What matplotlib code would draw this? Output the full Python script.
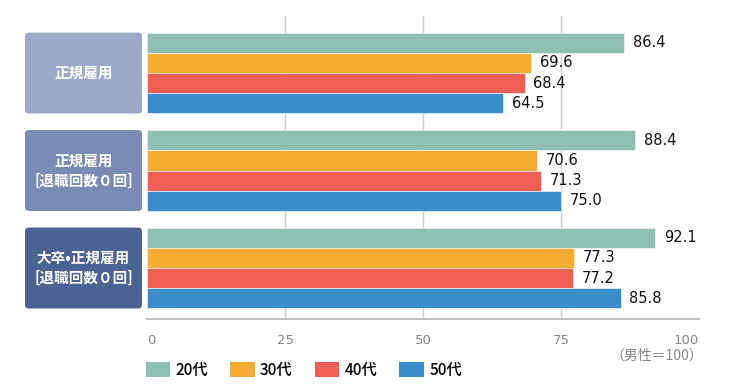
import matplotlib
matplotlib.use("Agg")
import matplotlib.pyplot as plt
from matplotlib.patches import FancyBboxPatch, Patch
import numpy as np

plt.rcParams['font.family'] = ['DejaVu Sans', 'Noto Sans CJK JP']
jp = ['Noto Sans CJK JP', 'DejaVu Sans']

# data
groups = ['正規雇用', '正規雇用\n[退職回数０回]', '大卒•正規雇用\n[退職回数０回]']
ages = ['20代', '30代', '40代', '50代']
v20 = [86.4, 88.4, 92.1]
v30 = [69.6, 70.6, 77.3]
v40 = [68.4, 71.3, 77.2]
v50 = [64.5, 75.0, 85.8]
ticks = [0, 25, 50, 75, 100]

colors = ['#8fbeb3', '#f5ac33', '#ef5f56', '#3b8cca']
box_colors = ['#9ca9c8', '#7a8bb3', '#4b6294']

fig = plt.figure(figsize=(7.5, 3.92), dpi=100)
ax = fig.add_axes([147/750, 1-319/392, 552/750, 303/392])

gap = 4.82
centers = np.arange(len(groups)) * gap
series = [v20, v30, v40, v50]
for i, vals in enumerate(series):
    ypos = centers + (i - 1.5)
    ax.barh(ypos, vals, height=1.0, color=colors[i], edgecolor='white', linewidth=0.4, zorder=3)
    for y, v in zip(ypos, vals):
        ax.text(v + 1.6, y, f'{v:.1f}', va='center', ha='left', fontsize=10.5, color='#111111')

ax.set_xlim(0, 100)
ax.set_ylim(centers[-1] + 2.52, -2.82)
ax.set_xticks(ticks)
ax.set_xticklabels([str(t) for t in ticks], color='#888888', fontsize=9.5)
lbls = ax.get_xticklabels()
lbls[0].set_ha('left')
lbls[-1].set_ha('right')
ax.tick_params(axis='x', length=0, pad=11)
ax.set_yticks([])
ax.grid(axis='x', color='#d0d0d0', linewidth=1, zorder=0)
gl = ax.xaxis.get_gridlines()
gl[0].set_visible(False)
gl[-1].set_visible(False)
for s in ['top', 'right', 'left']:
    ax.spines[s].set_visible(False)
ax.spines['bottom'].set_color('#c0c0c0')
ax.spines['bottom'].set_linewidth(1.5)

# category boxes left of the axis
for c, g, bc in zip(centers, groups, box_colors):
    box = FancyBboxPatch((-22.1, c - 2.0), 21.2, 4.0,
                         boxstyle='round,pad=0,rounding_size=0.7',
                         mutation_aspect=0.27, facecolor=bc, edgecolor='none',
                         transform=ax.transData, clip_on=False, zorder=2)
    ax.add_patch(box)
    ax.text(-11.5, c, g, ha='center', va='center', color='white', fontsize=10.5,
            fontweight='bold', linespacing=1.3, clip_on=False, family=jp)

fig.text(703/750, 1-356/392, '（男性＝100）', ha='right', va='center', color='#888888',
         fontsize=10, family=jp)

handles = [Patch(facecolor=c, edgecolor='none') for c in colors]
leg = fig.legend(handles, ages, loc='upper left', bbox_to_anchor=(141/750, 1-357/392), ncol=4,
                 frameon=False, handlelength=1.6, handleheight=1.2,
                 handletextpad=0.35, columnspacing=1.45, borderaxespad=0, borderpad=0.3,
                 prop={'family': jp, 'size': 11, 'weight': 'medium'})

plt.savefig('out.png', dpi=100)
